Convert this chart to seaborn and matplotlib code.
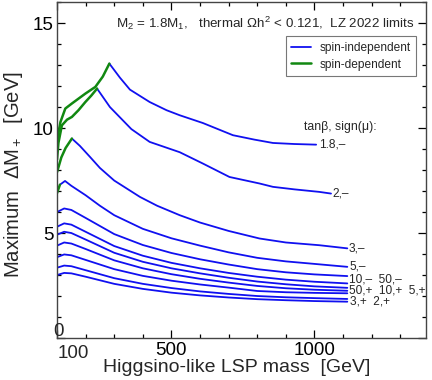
import matplotlib
matplotlib.use("Agg")
import matplotlib.pyplot as plt
import seaborn as sns
import pandas as pd
from matplotlib.lines import Line2D
from matplotlib.ticker import MultipleLocator, FixedLocator

# ---------------- data ----------------
mass_18m = [100, 104, 112, 129, 152, 199, 234, 260, 283, 320, 355, 424, 483, 529, 610, 715, 790, 855, 930, 1006]
dm_18m = [9.0, 9.7, 10.29, 10.93, 11.17, 11.64, 11.96, 12.45, 13.07, 12.4, 11.83, 11.24, 10.85, 10.61, 10.24, 9.66, 9.45, 9.29, 9.24, 9.21]
sd_18m = 9

mass_2m = [100, 105, 117, 135, 152, 175, 199, 220, 240, 285, 360, 424, 529, 610, 703, 808, 855, 930, 1017, 1058]
dm_2m = [8.5, 9.3, 10.13, 10.4, 10.53, 10.85, 11.24, 11.55, 11.88, 11.0, 9.95, 9.34, 8.85, 8.31, 7.67, 7.36, 7.2, 7.08, 6.96, 6.88]
sd_2m = 9

mass_3m = [100, 115, 130, 152, 180, 215, 250, 300, 390, 450, 529, 600, 700, 808, 900, 1017, 1115]
dm_3m = [7.9, 8.6, 9.05, 9.5, 9.15, 8.63, 8.1, 7.5, 6.72, 6.3, 5.85, 5.5, 5.1, 4.74, 4.55, 4.42, 4.27]
sd_3m = 4

mass_5m = [100, 110, 128, 150, 200, 250, 300, 400, 500, 600, 700, 800, 900, 1000, 1115]
dm_5m = [6.9, 7.3, 7.48, 7.25, 6.8, 6.3, 5.85, 5.2, 4.75, 4.4, 4.08, 3.82, 3.65, 3.53, 3.39]
sd_5m = 2

mass_low = [100, 125, 150, 200, 300, 400, 500, 600, 700, 800, 900, 1000, 1115]
dm_10m = [6.0, 6.17, 6.1, 5.72, 4.95, 4.43, 4.05, 3.75, 3.5, 3.28, 3.13, 3.03, 2.95]
dm_50m = [5.3, 5.46, 5.4, 5.06, 4.38, 3.92, 3.58, 3.32, 3.1, 2.92, 2.78, 2.68, 2.60]
dm_50p = [4.92, 5.06, 5.0, 4.69, 4.06, 3.63, 3.32, 3.08, 2.87, 2.69, 2.56, 2.46, 2.39]
dm_10p = [4.4, 4.55, 4.5, 4.24, 3.7, 3.32, 3.04, 2.82, 2.64, 2.48, 2.37, 2.3, 2.25]
dm_5p = [3.85, 3.98, 3.94, 3.72, 3.28, 2.96, 2.73, 2.55, 2.4, 2.24, 2.18, 2.15, 2.13]
dm_3p = [3.35, 3.45, 3.42, 3.23, 2.85, 2.58, 2.38, 2.22, 2.1, 2.0, 1.94, 1.9, 1.86]
dm_2p = [3.0, 3.1, 3.08, 2.92, 2.58, 2.34, 2.16, 2.03, 1.93, 1.85, 1.8, 1.76, 1.73]

curve_labels = ["1.8,\u2013", "2,\u2013", "3,\u2013", "5,\u2013",
                "10,\u2013  50,\u2013", "50,+  10,+  5,+", "3,+  2,+"]
label_mass = [1015, 1063, 1120, 1122, 1122, 1122, 1124]
label_dm = [9.2, 6.88, 4.27, 3.39, 2.79, 2.24, 1.73]

title_text = "M$_2$ = 1.8M$_1$,   thermal \u03a9h$^2$ < 0.121,  LZ 2022 limits"
legend_labels = ["spin-independent", "spin-dependent"]
xlabel = "Higgsino-like LSP mass  [GeV]"
ylabel = "Maximum  \u0394M$_+$  [GeV]"
xticks = [100, 500, 1000]
yticks = [0, 5, 10, 15]

# ---------------- build long table ----------------
curves = [
    ("1.8-", mass_18m, dm_18m, sd_18m),
    ("2-", mass_2m, dm_2m, sd_2m),
    ("3-", mass_3m, dm_3m, sd_3m),
    ("5-", mass_5m, dm_5m, sd_5m),
    ("10-", mass_low, dm_10m, 0),
    ("50-", mass_low, dm_50m, 0),
    ("50+", mass_low, dm_50p, 0),
    ("10+", mass_low, dm_10p, 0),
    ("5+", mass_low, dm_5p, 0),
    ("3+", mass_low, dm_3p, 0),
    ("2+", mass_low, dm_2p, 0),
]
rows = []
for name, m, d, nsd in curves:
    if nsd > 1:
        for i in range(nsd):
            rows.append(dict(seg=name + "_sd", kind="sd", mass=m[i], dm=d[i]))
    start = max(nsd - 1, 0)
    for i in range(start, len(m)):
        rows.append(dict(seg=name + "_si", kind="si", mass=m[i], dm=d[i]))
df = pd.DataFrame(rows)

# ---------------- plot ----------------
sns.set_theme(style="ticks")
plt.rcParams["font.family"] = ["Liberation Sans", "DejaVu Sans"]
plt.rcParams["mathtext.fontset"] = "custom"
plt.rcParams["mathtext.rm"] = "Liberation Sans"
plt.rcParams["mathtext.it"] = "Liberation Sans:italic"
plt.rcParams["mathtext.default"] = "regular"

BLUE = "#1010f0"
GREEN = "#118811"

fig = plt.figure(figsize=(4.32, 3.80), dpi=100)
ax = fig.add_axes([0.132, 0.1105, 0.854, 0.884])

sns.lineplot(data=df[df.kind == "si"], x="mass", y="dm", units="seg", estimator=None,
             sort=False, color=BLUE, linewidth=1.3, ax=ax, legend=False)
sns.lineplot(data=df[df.kind == "sd"], x="mass", y="dm", units="seg", estimator=None,
             sort=False, color=GREEN, linewidth=1.8, ax=ax, legend=False)

ax.set_xlim(100, 1390)
ax.set_ylim(0, 16)

ax.xaxis.set_major_locator(FixedLocator(xticks))
ax.xaxis.set_minor_locator(MultipleLocator(100))
ax.yaxis.set_major_locator(FixedLocator(yticks))
ax.yaxis.set_minor_locator(MultipleLocator(1))
ax.set_xticklabels(["", "500", "1000"])
ax.set_yticklabels(["", "5", "10", "15"])
ax.tick_params(which="both", direction="in", top=True, right=True, colors="black",
               labelsize=13.5)
ax.tick_params(which="major", length=6, width=0.9)
ax.tick_params(which="minor", length=3.2, width=0.9)
ax.tick_params(axis="y", pad=2.5)
ax.tick_params(axis="x", pad=3)
for s in ax.spines.values():
    s.set_color("#444444")
    s.set_linewidth(1.0)

# offset "0" and "100" labels as in the reference
ax.text(-0.011, 0.018, "0", transform=ax.transAxes, fontsize=13.5,
        ha="left", va="center")
ax.text(0.002, -0.02, "100", transform=ax.transAxes, fontsize=13.5, ha="left", va="top")

ax.set_xlabel(xlabel, fontsize=14)
ax.set_ylabel(ylabel, fontsize=14.6)
ax.xaxis.set_label_coords(0.488, -0.062)
ax.yaxis.set_label_coords(-0.086, 0.485)

ax.text(1349, 15.0, title_text, fontsize=9.6, ha="right", va="center")
ax.text(962, 10.05, "tan\u03b2, sign(\u03bc):", fontsize=8.8, ha="left", va="center")
for lab, lm, ld in zip(curve_labels, label_mass, label_dm):
    ax.text(lm, ld, lab, fontsize=8.6, ha="left", va="center")

handles = [Line2D([], [], color=BLUE, linewidth=1.3),
           Line2D([], [], color=GREEN, linewidth=1.8)]
leg = ax.legend(handles, legend_labels, loc="upper right", bbox_to_anchor=(0.974, 0.898),
                fontsize=8.6, frameon=True, fancybox=False, borderpad=0.45,
                handlelength=1.7, handletextpad=0.7, labelspacing=0.4, borderaxespad=0)
leg.get_frame().set_edgecolor("#555555")
leg.get_frame().set_linewidth(0.8)

fig.savefig("out.png", dpi=100)
